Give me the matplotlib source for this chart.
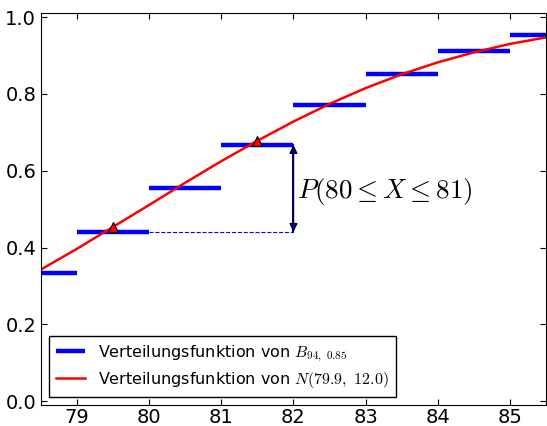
import matplotlib
matplotlib.use("Agg")
import matplotlib.pyplot as plt

plt.rcParams["mathtext.fontset"] = "cm"

# binomial CDF steps, B(94, 0.85): value on [k, k+1)
step_k = [78, 79, 80, 81, 82, 83, 84, 85]
step_cdf = [0.333, 0.441, 0.555, 0.667, 0.770, 0.851, 0.912, 0.953]

# normal CDF N(79.9, 12.0)
norm_x = [78.5, 79.0, 79.5, 80.0, 80.5, 81.0, 81.5, 82.0, 82.5, 83.0, 83.5, 84.0, 84.5, 85.0, 85.5]
norm_y = [0.343, 0.397, 0.454, 0.511, 0.569, 0.625, 0.678, 0.728, 0.774, 0.815, 0.851, 0.882, 0.908, 0.930, 0.947]

# marked points on the normal curve
mark_x = [79.5, 81.5]
mark_y = [0.454, 0.678]

fig = plt.figure(figsize=(5.47, 4.26), dpi=100)
ax = fig.add_axes([0.075, 0.049, 0.923, 0.920])

for i, k in enumerate(step_k):
    lbl = r"Verteilungsfunktion von $B_{94,\ 0.85}$" if i == 0 else None
    ax.plot([k, k + 1], [step_cdf[i], step_cdf[i]], c="blue", lw=3.2, label=lbl, solid_capstyle="butt")

ax.plot(norm_x, norm_y, c="red", lw=1.8, label=r"Verteilungsfunktion von $N(79.9,\ 12.0)$")
ax.plot(mark_x, mark_y, ls="none", marker="^", ms=7, mfc="red", mec="black", mew=0.8)

# dashed line and double arrow for P(80 <= X <= 81)
ax.plot([80, 82], [step_cdf[1], step_cdf[1]], c="blue", ls="--", lw=0.8)
ax.plot([82, 82], [step_cdf[1], step_cdf[3]], c="blue", lw=1.5)
ax.annotate("", xy=(82, step_cdf[3]), xytext=(82, step_cdf[1]),
            arrowprops=dict(arrowstyle="<|-|>", fc="blue", ec="black", lw=1, mutation_scale=12,
                            shrinkA=0, shrinkB=0))
ax.text(82.05, 0.545, r"$P(80 \leq X \leq 81)$",
        fontsize=19.5, va="center", ha="left")

ax.set_xlim(78.5, 85.5)
ax.set_ylim(-0.01, 1.01)
ax.set_xticks([79, 80, 81, 82, 83, 84, 85])
ax.set_yticks([0.0, 0.2, 0.4, 0.6, 0.8, 1.0])
ax.tick_params(direction="in", top=True, right=True, labelsize=14, length=4)
ax.tick_params(axis="x", pad=2)

leg = ax.legend(loc="lower left", fontsize=11.5, fancybox=False, framealpha=1,
                borderaxespad=0.5, handlelength=1.8, handletextpad=0.8,
                borderpad=0.45, labelspacing=0.4)
leg.get_frame().set_edgecolor("black")

fig.savefig("out.png", dpi=100)
